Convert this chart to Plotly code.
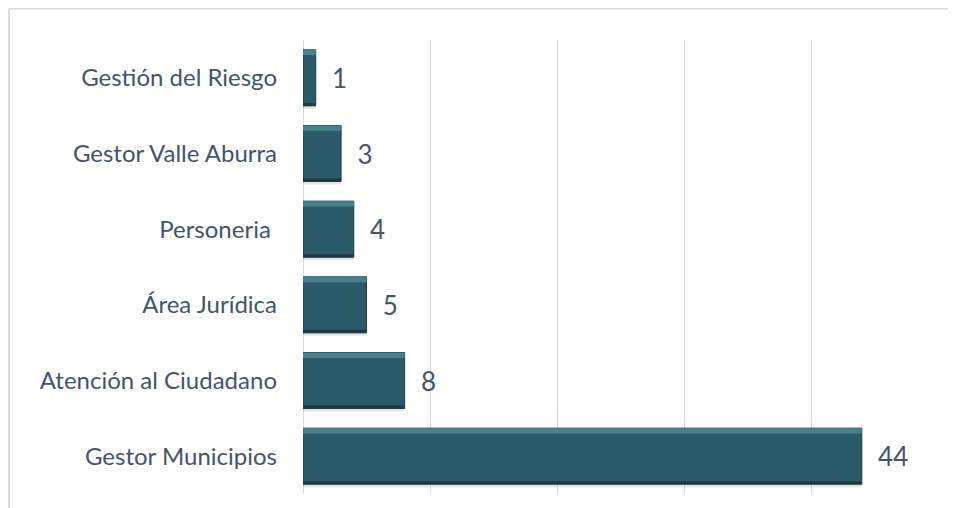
import plotly.graph_objects as go

categories = ["Gestor Municipios", "Atención al Ciudadano", "Área Jurídica",
              "Personeria ", "Gestor Valle Aburra", "Gestión del Riesgo"]
values = [44, 8, 5, 4, 3, 1]

bar_color = "#2B5A69"
text_color = "#44546A"
grid_color = "#D9D9D9"
bar_width = 0.74

W, H = 948, 500
ML, MR, MT, MB = 295, 18, 32, 14
pw, ph = W - ML - MR, H - MT - MB

fig = go.Figure()

# soft shadow
fig.add_trace(go.Bar(
    y=list(range(len(categories))), x=values, orientation="h",
    width=bar_width, offset=-bar_width / 2 - 0.04,
    marker=dict(color="rgba(0,0,0,0.10)", line=dict(width=0)),
    hoverinfo="skip", showlegend=False))

fig.add_trace(go.Bar(
    y=list(range(len(categories))), x=values, orientation="h",
    width=bar_width,
    marker=dict(color=bar_color, line=dict(color="#1D3E49", width=1)),
    text=values, texttemplate="  %{x}", textposition="outside",
    textfont=dict(size=26, color=text_color, family="Lato"),
    cliponaxis=False, showlegend=False))

# bevel highlights derived from data
shapes = []
for i, v in enumerate(values):
    shapes.append(dict(type="rect", xref="x", yref="y",
                       x0=0, x1=v, y0=i + bar_width / 2 - 0.07, y1=i + bar_width / 2,
                       fillcolor="#4F8796", line=dict(width=0), opacity=0.85))
    shapes.append(dict(type="rect", xref="x", yref="y",
                       x0=0, x1=v, y0=i - bar_width / 2, y1=i - bar_width / 2 + 0.04,
                       fillcolor="#1A3741", line=dict(width=0), opacity=0.9))

# chart frame (top and left)
fx = (1 - ML) / pw
top = (ph + MT - 0.5) / ph
shapes.append(dict(type="line", xref="paper", yref="paper", x0=fx, x1=(W - ML) / pw,
                   y0=top, y1=top, line=dict(color="#D9D9D9", width=2)))
shapes.append(dict(type="line", xref="paper", yref="paper", x0=fx, x1=fx,
                   y0=-MB / ph, y1=top, line=dict(color="#D9D9D9", width=2)))

fig.update_layout(
    width=W, height=H,
    margin=dict(l=ML, r=MR, t=MT, b=MB),
    paper_bgcolor="white", plot_bgcolor="white",
    barmode="overlay",
    shapes=shapes,
    xaxis=dict(range=[0, 50], dtick=10, showticklabels=False,
               showgrid=True, gridcolor=grid_color, gridwidth=1,
               zeroline=True, zerolinecolor=grid_color, zerolinewidth=1,
               fixedrange=True),
    yaxis=dict(tickmode="array", tickvals=list(range(len(categories))),
               ticktext=categories, range=[-0.5, len(categories) - 0.5],
               tickfont=dict(size=24, color=text_color, family="Lato"),
               ticklabelstandoff=25, showgrid=False, zeroline=False,
               ticks="", fixedrange=True),
    font=dict(family="Lato", color=text_color),
)

fig.write_html("out.html")
